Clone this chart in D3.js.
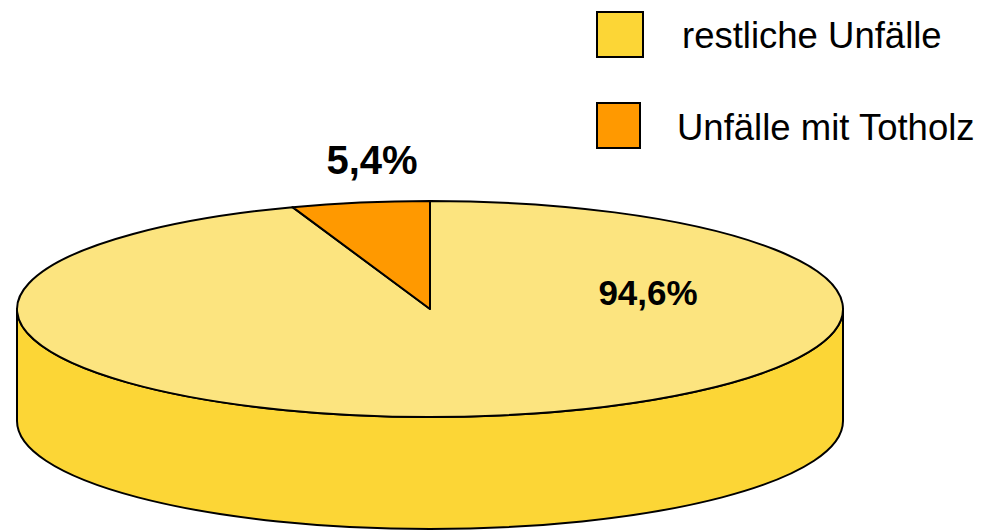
<!DOCTYPE html>
<html><head><meta charset="utf-8">
<script src="https://cdn.jsdelivr.net/npm/d3@7"></script>
<style>body{margin:0;background:#fff;}svg{display:block;font-family:"Liberation Sans",Arial,sans-serif;}</style>
</head><body>
<svg id="c" width="990" height="530"></svg>
<script>
const categories = ["restliche Unfälle", "Unfälle mit Totholz"];
const values = [94.6, 5.4];
const labels = ["94,6%", "5,4%"];
const topColors = ["#FCE47F", "#FF9900"];
const sideColors = ["#FCD636", "#E88A00"];
const legendColors = ["#FCD636", "#FF9900"];

const svg = d3.select("#c");
const cx = 430, cy = 309, rx = 413, ry = 108, depth = 112;

const pie = d3.pie().sort(null).value(d => d)(values);

function pt(a, dy = 0) { return [cx + rx * Math.sin(a), cy - ry * Math.cos(a) + dy]; }

function topPath(s) {
  const a = pt(s.startAngle), b = pt(s.endAngle);
  const large = (s.endAngle - s.startAngle) > Math.PI ? 1 : 0;
  return `M${cx},${cy}L${a[0]},${a[1]}A${rx},${ry} 0 ${large} 1 ${b[0]},${b[1]}Z`;
}
function sidePath(s) {
  const a0 = Math.max(s.startAngle, Math.PI / 2), a1 = Math.min(s.endAngle, 3 * Math.PI / 2);
  if (a1 <= a0) return null;
  const a = pt(a0), b = pt(a1), b2 = pt(a1, depth), a2 = pt(a0, depth);
  const large = (a1 - a0) > Math.PI ? 1 : 0;
  return `M${a[0]},${a[1]}A${rx},${ry} 0 ${large} 1 ${b[0]},${b[1]}L${b2[0]},${b2[1]}A${rx},${ry} 0 ${large} 0 ${a2[0]},${a2[1]}Z`;
}

const g = svg.append("g");
g.selectAll("path.side").data(pie.filter(s => sidePath(s))).join("path")
  .attr("class", "side").attr("d", sidePath)
  .attr("fill", d => sideColors[d.index]).attr("stroke", "#000").attr("stroke-width", 2).attr("stroke-linejoin", "round");
g.selectAll("path.top").data(pie).join("path")
  .attr("class", "top").attr("d", topPath)
  .attr("fill", d => topColors[d.index]).attr("stroke", "#000").attr("stroke-width", 2).attr("stroke-linejoin", "round");

// value labels
svg.append("text").attr("x", 648).attr("y", 305).attr("text-anchor", "middle")
  .attr("font-weight", "bold").attr("font-size", 35).text(labels[0]);
svg.append("text").attr("x", 372).attr("y", 174).attr("text-anchor", "middle")
  .attr("font-weight", "bold").attr("font-size", 40).text(labels[1]);

// legend
const leg = [{y: 12, w: 46, tx: 682, ty: 48}, {y: 103, w: 43, tx: 677, ty: 140}];
categories.forEach((c, i) => {
  svg.append("rect").attr("x", 597).attr("y", leg[i].y).attr("width", leg[i].w).attr("height", 45)
    .attr("fill", legendColors[i]).attr("stroke", "#000").attr("stroke-width", 2);
  svg.append("text").attr("x", leg[i].tx).attr("y", leg[i].ty).attr("font-size", 36.5).text(c);
});
</script>
</body></html>
